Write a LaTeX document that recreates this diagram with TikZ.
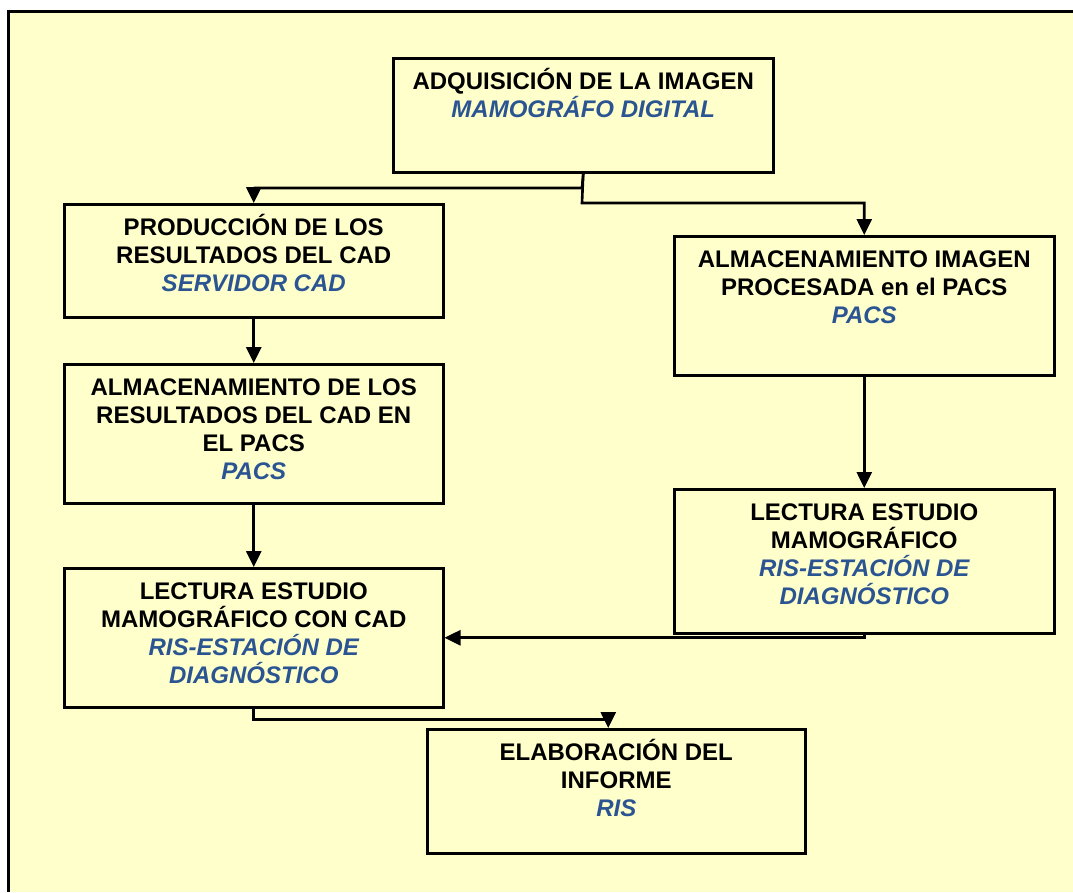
\documentclass[tikz,border=0pt]{standalone}
\usepackage{fontspec}
\setmainfont{Liberation Sans}
\usetikzlibrary{arrows.meta,calc}
\definecolor{bgyellow}{HTML}{FFFFCC}
\definecolor{lblue}{HTML}{2B5592}
\tikzset{
  box/.style={draw=black, line width=2.5pt, fill=bgyellow, inner sep=0pt, anchor=north west},
  txt/.style={anchor=north, inner sep=0pt, align=center, font=\fontsize{24}{28}\selectfont\bfseries},
  conn/.style={draw=black, line width=2.6pt, -{Triangle[length=16pt,width=15pt]}},
}
\newcommand{\fl}{\rule{0pt}{22pt}}
\newcommand{\bl}[1]{\textcolor{lblue}{\itshape #1}}
\begin{document}
\begin{tikzpicture}[x=1pt,y=-1pt]
\useasboundingbox (0,0) rectangle (1073,892);
\fill[white] (0,0) rectangle (1073,892);
\fill[bgyellow] (8,11) rectangle (1073,892);
\draw[line width=3pt] (8,892) -- (8,11) -- (1073,11);

% boxes
\node[box, minimum width=380pt, minimum height=114pt] (A) at (392,57) {};
\node[box, minimum width=379pt, minimum height=113pt] (B) at (63,203) {};
\node[box, minimum width=379pt, minimum height=139pt] (C) at (63,363) {};
\node[box, minimum width=379pt, minimum height=139pt] (D) at (63,567) {};
\node[box, minimum width=380pt, minimum height=139pt] (E) at (673,235) {};
\node[box, minimum width=380pt, minimum height=144pt] (F) at (673,488) {};
\node[box, minimum width=378pt, minimum height=124pt] (G) at (426,728) {};

% texts
\node[txt] (At) at ($(A.north)+(0,10)$) {\fl ADQUISICIÓN DE LA IMAGEN\\ \bl{MAMOGRÁFO DIGITAL}};
\node[txt] (Bt) at ($(B.north)+(0,10)$) {\fl PRODUCCIÓN DE LOS\\ RESULTADOS DEL CAD\\ \bl{SERVIDOR CAD}};
\node[txt] (Ct) at ($(C.north)+(0,10)$) {\fl ALMACENAMIENTO DE LOS\\ RESULTADOS DEL CAD EN\\ EL PACS\\ \bl{PACS}};
\node[txt] (Dt) at ($(D.north)+(0,10)$) {\fl LECTURA ESTUDIO\\ MAMOGRÁFICO CON CAD\\ \bl{RIS-ESTACIÓN DE}\\ \bl{DIAGNÓSTICO}};
\node[txt] (Et) at ($(E.north)+(0,10)$) {\fl ALMACENAMIENTO IMAGEN\\ PROCESADA en el PACS\\ \bl{PACS}};
\node[txt] (Ft) at ($(F.north)+(0,10)$) {\fl LECTURA ESTUDIO\\ MAMOGRÁFICO\\ \bl{RIS-ESTACIÓN DE}\\ \bl{DIAGNÓSTICO}};
\node[txt] (Gt) at ($(G.north)+(0,10)$) {\fl ELABORACIÓN DEL\\ INFORME\\ \bl{RIS}};

% connectors
\coordinate (j1) at (582,188);
\coordinate (j2) at (582,203);
\draw[conn] (A.south) -- (j1) -| (B.north);
\draw[conn] (A.south) -- (j2) -| (E.north);
\draw[conn] (B.south) -- (C.north);
\draw[conn] (C.south) -- (D.north);
\draw[conn] (E.south) -- (F.north);
\draw[conn] (F.south) |- (D.east);
\draw[conn] (D.south) -- ++(0,11) -| ([xshift=-8pt]G.north);
\end{tikzpicture}
\end{document}
